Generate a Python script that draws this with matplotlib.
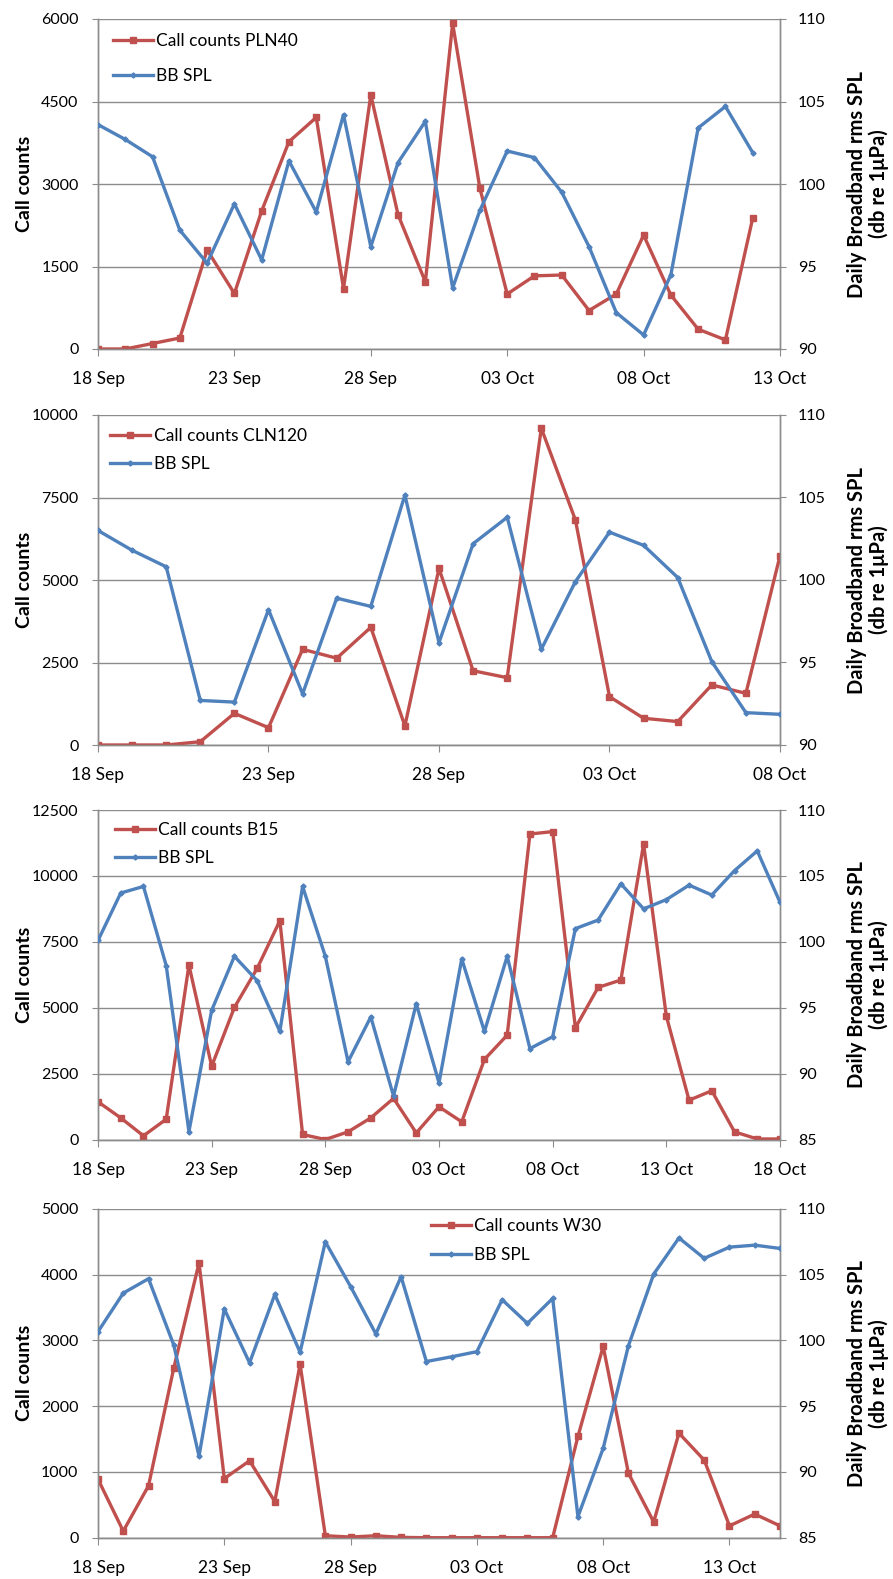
import matplotlib
matplotlib.use("Agg")
import matplotlib.pyplot as plt
import matplotlib.dates as mdates
import pandas as pd
import numpy as np

plt.rcParams['font.family'] = ['Lato', 'DejaVu Sans']

# ---------------- data ----------------
start_date = "2012-09-18"

pln40_calls = [0, 0, 100, 200, 1800, 1010, 2510, 3770, 4210, 1100, 4620, 2440, 1220,
               5920, 2920, 1000, 1330, 1345, 700, 1000, 2070, 980, 360, 165, 2380]
pln40_spl = [103.6, 102.7, 101.65, 97.2, 95.2, 98.8, 95.4, 101.4, 98.3, 104.2, 96.2, 101.3, 103.8,
             93.7, 98.4, 102.0, 101.6, 99.5, 96.2, 92.2, 90.85, 94.5, 103.4, 104.7, 101.9]

cln120_calls = [0, 0, 0, 100, 960, 525, 2900, 2630, 3565, 580, 5350, 2250, 2040,
                9600, 6820, 1465, 810, 710, 1820, 1565, 5730]
cln120_spl = [103.0, 101.8, 100.8, 92.7, 92.6, 98.2, 93.1, 98.9, 98.4, 105.15, 96.2, 102.2, 103.8,
              95.8, 99.9, 102.9, 102.1, 100.15, 95.05, 91.96, 91.86]

b15_calls = [1430, 820, 140, 770, 6620, 2780, 5010, 6490, 8300, 190, 0, 290, 820, 1560, 250, 1240,
             670, 3040, 3960, 11590, 11680, 4240, 5770, 6050, 11210, 4680, 1490, 1850, 290, 20, 20]
b15_spl = [100.1, 103.7, 104.2, 98.2, 85.6, 94.8, 98.9, 97.05, 93.2, 104.2, 98.9, 90.9, 94.3, 88.3,
           95.3, 89.3, 98.7, 93.2, 98.9, 91.9, 92.8, 101.0, 101.65, 104.4, 102.5, 103.2, 104.3,
           103.55, 105.4, 106.9, 103.0]

w30_calls = [890, 100, 790, 2580, 4180, 900, 1170, 550, 2640, 30, 10, 30, 5, 0, 0, 0, 0, 0, 0,
             1540, 2910, 980, 240, 1590, 1180, 180, 360, 180]
w30_spl = [100.67, 103.6, 104.7, 99.65, 91.2, 102.4, 98.3, 103.5, 99.1, 107.5, 104.1, 100.5, 104.85,
           98.4, 98.76, 99.15, 103.1, 101.3, 103.2, 86.6, 91.8, 99.6, 105.05, 107.8, 106.25, 107.1,
           107.25, 107.0]

site_labels = ["Call counts PLN40", "Call counts CLN120", "Call counts B15", "Call counts W30"]
spl_label = "BB SPL"
left_ylim = [(0, 6000, 1500), (0, 10000, 2500), (0, 12500, 2500), (0, 5000, 1000)]
right_ylim = [(90, 110), (90, 110), (85, 110), (85, 110)]
x_end = ["2012-10-13", "2012-10-08", "2012-10-18", "2012-10-15"]

calls = [pln40_calls, cln120_calls, b15_calls, w30_calls]
spls = [pln40_spl, cln120_spl, b15_spl, w30_spl]

# ---------------- style ----------------
RED = '#C0504D'
BLUE = '#4F81BD'
GRID = '#8C8C8C'
W, H = 893, 1579

fig = plt.figure(figsize=(W / 100, H / 100), dpi=100)

panels_px = [(19, 349), (415, 745), (810, 1139.5), (1209, 1537.7)]
ax_left_px, ax_right_px = 98, 780
legend_pos = [(0.022, 0.958, 1.08), (0.018, 0.961, 0.72), (0.025, 0.964, 0.72), (0.488, 0.972, 0.72)]

for i in range(4):
    top, bot = panels_px[i]
    ax = fig.add_axes([ax_left_px / W, 1 - bot / H, (ax_right_px - ax_left_px) / W, (bot - top) / H])
    ax2 = ax.twinx()
    dates = pd.date_range(start_date, periods=len(calls[i]), freq='D')

    l1, = ax.plot(dates, calls[i], color=RED, lw=2.4, marker='s', ms=4.5, zorder=3,
                  label=site_labels[i])
    l2, = ax2.plot(dates, spls[i], color=BLUE, lw=2.4, marker='D', ms=2.6, zorder=3,
                   label=spl_label)

    y0, y1, ys = left_ylim[i]
    ax.set_ylim(y0, y1)
    ax.set_yticks(np.arange(y0, y1 + 1, ys))
    r0, r1 = right_ylim[i]
    ax2.set_ylim(r0, r1)
    ax2.set_yticks(np.arange(r0, r1 + 1, 5))

    ax.set_xlim(pd.Timestamp(start_date), pd.Timestamp(x_end[i]))
    ticks = pd.date_range(start_date, x_end[i], freq='5D')
    ax.set_xticks(ticks)
    ax.xaxis.set_major_formatter(mdates.DateFormatter('%d %b'))

    ax.grid(axis='y', color=GRID, lw=1.0)
    ax.set_axisbelow(True)
    for a in (ax, ax2):
        a.spines['top'].set_visible(False)
        for s in ('left', 'right', 'bottom'):
            a.spines[s].set_color(GRID)
            a.spines[s].set_linewidth(1.0)
    ax.tick_params(axis='y', colors=GRID, labelcolor='black', labelsize=11.5, length=4, pad=10)
    ax2.tick_params(axis='y', colors=GRID, labelcolor='black', labelsize=11.5, length=4, pad=9)
    ax.tick_params(axis='x', colors=GRID, labelcolor='black', labelsize=12.5, length=5, pad=11)

    cy = 1 - ((top + bot) / 2) / H
    fig.text(25 / W, cy, "Call counts", rotation=90, ha='center', va='center',
             fontsize=14, fontweight='bold')
    fig.text(868 / W, cy, "Daily Broadband rms SPL\n(db re 1\u03bcPa)", rotation=90,
             ha='center', va='center', fontsize=14.5, fontweight='bold', linespacing=1.1)

    lx, ly, lsp = legend_pos[i]
    ax2.legend([l1, l2], [site_labels[i], spl_label], loc='upper left', bbox_to_anchor=(lx, ly),
               frameon=False, fontsize=12.5, borderpad=0, borderaxespad=0, handlelength=2.3,
               handletextpad=0.2, labelspacing=lsp)

fig.savefig("out.png", dpi=100)
